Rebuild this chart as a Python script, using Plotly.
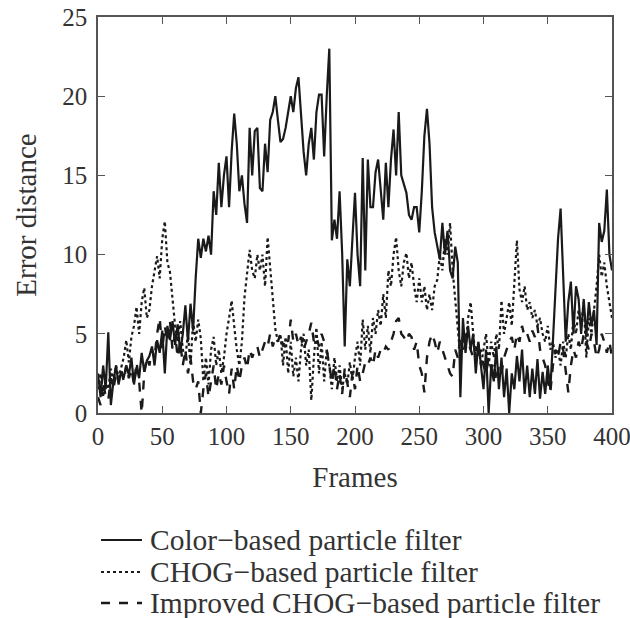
import plotly.graph_objects as go

# Frame index (every second frame)
frames = list(range(0, 401, 2))

# Tracking error of the colour-based particle filter
color_err = [
    2.5, 1.0, 3.0, 1.5, 5.1, 0.5, 2.0, 3.0, 1.8, 2.6,
    2.2, 3.0, 2.4, 3.5, 1.8, 2.9, 2.2, 3.8, 2.6, 3.3,
    3.6, 4.2, 3.0, 4.6, 3.8, 5.2, 2.5, 5.5, 4.6, 5.8,
    4.3, 5.6, 3.8, 5.0, 6.8, 4.5, 6.9, 5.2, 8.5, 11.0,
    9.8, 11.0, 10.2, 11.2, 10.0, 14.0, 12.5, 15.8, 13.0, 15.0,
    16.2, 13.0, 16.5, 18.9, 17.0, 14.0, 15.0, 13.2, 12.0, 18.0,
    15.0, 17.8, 18.0, 14.2, 14.0, 17.0, 15.2, 18.5, 19.0, 20.0,
    18.5, 17.1, 17.3, 18.0, 19.0, 20.0, 19.0, 20.5, 21.2, 19.0,
    16.5, 15.0, 17.0, 18.0, 16.0, 19.0, 20.1, 20.1, 16.2, 20.0,
    23.0, 10.9, 12.2, 11.0, 14.0, 10.1, 4.2, 9.7, 8.0, 11.0,
    13.9, 10.0, 8.0, 16.1, 9.0, 16.0, 13.0, 13.0, 15.2, 16.0,
    14.0, 12.2, 15.8, 13.0, 16.0, 17.9, 15.0, 19.0, 15.0, 14.5,
    13.9, 12.5, 12.2, 13.0, 13.0, 11.4, 14.0, 17.5, 19.2, 17.0,
    13.0, 11.4, 10.5, 9.7, 12.0, 10.0, 11.5, 9.0, 8.5, 10.5,
    9.5, 1.0, 6.0, 3.8, 5.5, 4.0, 5.0, 2.5, 4.5, 3.0,
    1.5, 4.0, 0.0, 3.0, 2.0, 4.2, 1.5, 3.5, 1.0, 2.8,
    0.0, 2.5, 1.5, 3.6, 2.0, 4.0, 1.2, 3.0, 1.0, 2.8,
    1.2, 3.4, 0.9, 2.6, 1.2, 3.0, 1.5, 4.5, 8.0, 11.0,
    12.9, 9.0, 4.5, 7.0, 8.3, 5.0, 8.0, 7.2, 5.0, 7.2,
    4.8, 7.0, 5.5, 6.5, 4.3, 12.0, 10.8, 11.5, 14.1, 10.0,
    9.0,
]

# Tracking error of the CHOG-based particle filter
chog_err = [
    1.5, 2.5, 1.0, 2.0, 1.5, 2.8, 2.0, 3.0, 2.2, 2.8,
    3.5, 4.6, 3.2, 4.8, 5.5, 6.7, 5.0, 7.0, 7.9, 6.0,
    6.5, 8.0, 9.0, 9.9, 8.5, 11.0, 12.1, 9.5, 8.9, 7.0,
    5.5, 4.5, 5.8, 4.0, 3.5, 5.0, 3.0, 5.8, 4.5, 5.9,
    4.7, 2.0, 3.5, 1.8, 4.0, 4.8, 3.0, 4.0, 2.5, 3.5,
    5.0, 6.0, 7.1, 5.5, 4.0, 3.0, 4.5, 7.3, 9.0, 10.3,
    9.0, 8.5, 10.0, 9.0, 10.0, 8.0, 11.1, 9.0, 7.0, 5.3,
    4.5, 5.0, 3.0, 4.8, 2.5, 4.5, 2.3, 3.5, 2.0, 4.0,
    5.0, 3.0, 4.0, 0.8, 3.5, 5.4, 2.5, 4.5, 2.0, 4.0,
    3.0, 1.5, 3.5, 2.0, 3.0, 1.5, 2.5, 1.8, 3.2, 2.0,
    3.5, 4.5, 3.0, 5.9, 4.0, 5.5, 3.8, 6.0, 5.0, 6.5,
    5.5, 7.5, 6.0, 9.0, 8.0, 10.0, 11.1, 9.0, 8.0, 9.5,
    10.1, 8.5, 9.5, 8.0, 7.0, 8.5, 7.0, 8.0, 6.5, 7.5,
    6.5, 8.0, 8.4, 10.0, 9.0, 11.0, 10.0, 12.0, 9.0, 7.0,
    5.0, 3.5, 5.0, 4.0, 6.0, 7.0, 5.0, 3.5, 4.5, 3.0,
    4.0, 5.0, 3.0, 4.5, 3.5, 5.0, 4.0, 7.1, 5.0, 6.0,
    7.0, 5.5, 8.0, 10.9, 7.8, 7.0, 8.0, 6.5, 7.0, 6.0,
    6.5, 5.5, 6.0, 5.0, 4.5, 5.5, 4.0, 4.5, 3.5, 4.0,
    3.0, 4.5, 3.5, 5.0, 4.0, 6.0, 5.0, 6.5, 5.5, 7.0,
    3.5, 6.0, 5.0, 6.5, 8.0, 10.0, 8.6, 9.5, 8.0, 7.0,
    6.0,
]

# Tracking error of the improved CHOG-based particle filter
improved_err = [
    1.0, 0.5, 2.0, 1.0, 0.8, 2.2, 1.5, 2.5, 2.0, 2.8,
    2.0, 3.0, 2.2, 2.8, 1.8, 3.2, 2.0, 0.0, 2.5, 3.5,
    3.0, 4.0, 3.5, 5.0, 6.0, 4.0, 5.5, 4.5, 5.8, 4.0,
    5.0, 3.5, 4.5, 3.0, 4.0, 2.5, 3.5, 2.0, 1.5, 2.0,
    0.0, 1.5, 2.5, 1.0, 2.0, 3.0, 1.5, 2.5, 1.8, 3.0,
    2.0, 1.2, 2.8, 1.5, 3.0, 2.0, 3.0, 3.5, 2.8, 4.0,
    3.5, 4.0, 4.2, 3.5, 4.0, 4.5, 4.2, 5.0, 4.2, 4.8,
    4.5, 5.0, 4.2, 4.8, 4.5, 5.9, 4.5, 5.0, 4.3, 4.8,
    4.0, 4.5, 5.0, 5.7, 4.5, 4.8, 4.2, 5.0, 4.5, 4.0,
    3.0, 2.0, 3.0, 1.5, 2.5, 1.2, 2.8, 2.0, 1.0, 2.5,
    1.5, 3.0, 2.0, 2.5, 3.2, 3.0, 3.5, 3.0, 4.0, 3.5,
    4.0, 3.8, 4.2, 4.0, 4.5, 5.0, 5.8, 6.0, 5.0, 4.8,
    4.5, 5.0, 4.8, 4.0, 4.5, 3.0, 2.5, 1.3, 3.5, 4.5,
    5.0, 4.5, 3.8, 4.5, 4.0, 3.5, 3.0, 2.5, 2.3, 4.0,
    3.5, 4.8, 4.0, 5.0, 4.5, 4.0, 3.5, 4.2, 3.5, 4.0,
    3.0, 2.5, 3.5, 2.8, 3.2, 2.0, 3.0, 2.5, 3.5, 4.0,
    4.5, 4.8, 4.0, 5.0, 4.5, 5.5, 4.8, 5.0, 4.5, 5.2,
    4.8, 5.5, 4.0, 3.5, 3.0, 2.0, 1.3, 3.0, 4.0, 3.5,
    4.5, 4.0, 2.5, 1.3, 3.0, 4.0, 3.5, 4.5, 4.0, 5.0,
    4.5, 4.0, 5.0, 4.5, 3.5, 4.0, 5.0, 4.5, 3.8, 4.5,
    3.5,
]

x_ticks = [0, 50, 100, 150, 200, 250, 300, 350, 400]
y_ticks = [0, 5, 10, 15, 20, 25]

series_names = [
    "Color\u2212based particle filter",
    "CHOG\u2212based particle filter",
    "Improved CHOG\u2212based particle filter",
]
series_data = [color_err, chog_err, improved_err]
series_dash = ["solid", "dot", "dash"]
series_width = [2.2, 2.2, 2.4]

FONT = "Liberation Serif, Times New Roman, serif"
INK = "#1a1a1a"
TEXT = "#333"

# Plot-area geometry in pixels (used to lay out the key below the axes)
W, H = 630, 618
M_L, M_R, M_T, M_B = 98, 18, 17, 205
PW, PH = W - M_L - M_R, H - M_T - M_B


def px_to_paper(px, py):
    return (px - M_L) / PW, (H - M_B - py) / PH


fig = go.Figure()
for name, vals, dash, w in zip(series_names, series_data, series_dash, series_width):
    fig.add_trace(go.Scatter(x=frames, y=vals, mode="lines", name=name,
                             line=dict(color=INK, width=w, dash=dash),
                             showlegend=False))

axis_common = dict(
    showline=True, linecolor="#555", linewidth=1.5, mirror="ticks",
    ticks="inside", ticklen=7, tickcolor="#555", tickwidth=1.2,
    showgrid=False, zeroline=False, automargin=False,
    ticklabeloverflow="allow",
    tickfont=dict(family=FONT, size=25, color=TEXT),
)

fig.update_xaxes(range=[0, 400], tickvals=x_ticks, ticktext=[str(v) for v in x_ticks],
                 title=dict(text="Frames", font=dict(family=FONT, size=29, color=TEXT),
                            standoff=18),
                 **axis_common)
fig.update_yaxes(range=[0, 25], tickvals=y_ticks, ticktext=[str(v) for v in y_ticks],
                 title=dict(text="Error distance", font=dict(family=FONT, size=29, color=TEXT),
                            standoff=17),
                 ticklabelstandoff=4,
                 **axis_common)

# Key below the axes: a short line sample followed by the series name
key_rows = [540, 572, 603]
for name, dash, w, row in zip(series_names, series_dash, series_width, key_rows):
    x0, y0 = px_to_paper(101, row)
    x1, _ = px_to_paper(142, row)
    xt, _ = px_to_paper(148, row)
    fig.add_shape(type="line", xref="paper", yref="paper", x0=x0, x1=x1, y0=y0, y1=y0,
                  line=dict(color=INK, width=w, dash=dash))
    fig.add_annotation(text=name, xref="paper", yref="paper", x=xt, y=y0,
                       xanchor="left", yanchor="middle", showarrow=False,
                       font=dict(family=FONT, size=29.5, color=TEXT))

fig.update_layout(
    width=W, height=H,
    margin=dict(l=M_L, r=M_R, t=M_T, b=M_B, autoexpand=False),
    paper_bgcolor="white", plot_bgcolor="white",
    font=dict(family=FONT, color=TEXT),
    showlegend=False,
)

fig.write_html("out.html")
